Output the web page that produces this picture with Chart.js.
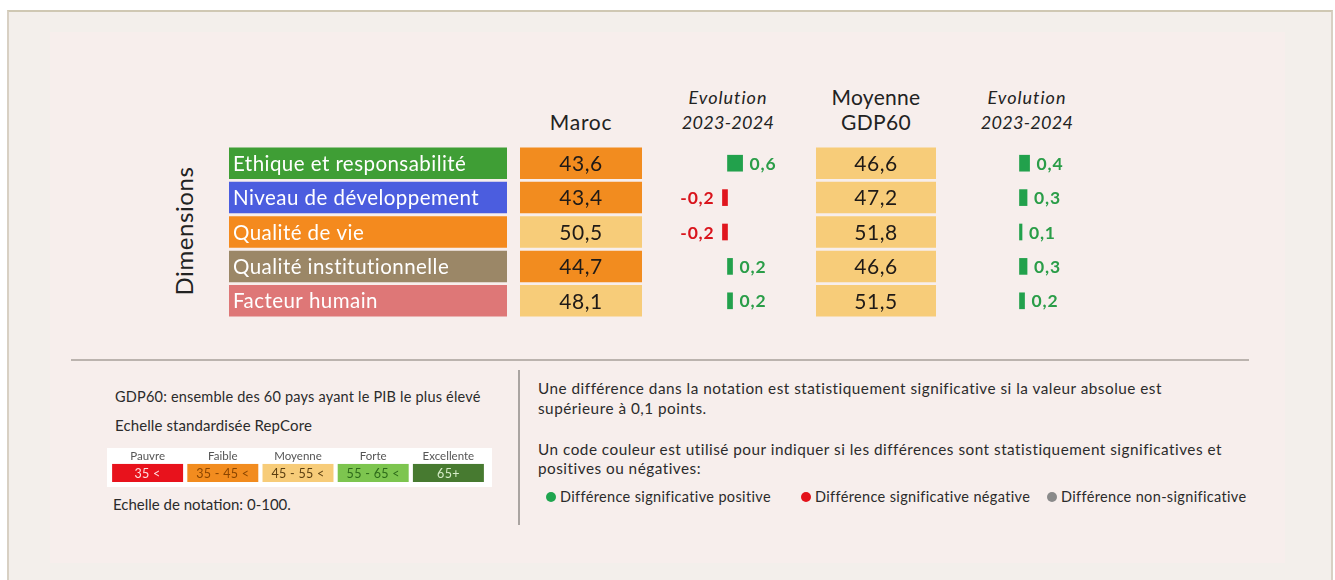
<!DOCTYPE html>
<html>
<head>
<meta charset="utf-8">
<script src="https://cdn.jsdelivr.net/npm/chart.js@4.4.1/dist/chart.umd.min.js"></script>
<style>
  body { margin: 0; width: 1335px; height: 580px; background: #fff; font-family: Lato, "Noto Sans", sans-serif; overflow: hidden; position: relative; }
  .frame { position: absolute; left: 7px; top: 10px; width: 1322px; height: 572px; background: #f3efeb; border-top: 2px solid #cfc8b3; border-left: 2px solid #d8d0c3; border-right: 2px solid #d8d0c3; }
  .panel { position: absolute; left: 50px; top: 32px; width: 1235px; height: 531px; background: #f7eeec; }
  .t { position: absolute; white-space: nowrap; line-height: 1.2; color: #222; }
  canvas { position: absolute; }
  .hline { position: absolute; left: 71px; top: 359px; width: 1178px; height: 2px; background: #bbb3ae; }
  .vline { position: absolute; left: 518px; top: 370px; width: 2px; height: 155px; background: #aaa4a1; }
  .dot { position: absolute; width: 10px; height: 10px; border-radius: 50%; }
</style>
</head>
<body>
<div class="frame"></div>
<div class="panel"></div>
<div class="hline"></div>
<div class="vline"></div>

<canvas id="labelChart" width="278" height="172" style="left:229px;top:146px"></canvas>
<canvas id="marocChart" width="122" height="172" style="left:520px;top:146px"></canvas>
<canvas id="marocEvoChart" width="151" height="172" style="left:652px;top:146px"></canvas>
<canvas id="gdpChart" width="120" height="172" style="left:816px;top:146px"></canvas>
<canvas id="gdpEvoChart" width="151" height="172" style="left:944px;top:146px"></canvas>
<canvas id="bandChart" width="385" height="39" style="left:107px;top:448px;background:#fff"></canvas>

<div id="texts"></div>

<script>
// Data
const dimensions = ["Ethique et responsabilité", "Niveau de développement", "Qualité de vie", "Qualité institutionnelle", "Facteur humain"]
const marocScores = [43.6, 43.4, 50.5, 44.7, 48.1]
const marocEvolution = [0.6, -0.2, -0.2, 0.2, 0.2]
const gdpScores = [46.6, 47.2, 51.8, 46.6, 51.5]
const gdpEvolution = [0.4, 0.3, 0.1, 0.3, 0.2]
const bandNames = ["Pauvre", "Faible", "Moyenne", "Forte", "Excellente"]
const bandRanges = ["35 <", "35 - 45 <", "45 - 55 <", "55 - 65 <", "65+"]
const bandLimits = [35, 45, 55, 65]
const ratingRange = [0, 100]

// Styles
const dimensionColors = ["#3f9e35", "#4b5ddf", "#f48a1e", "#9b8767", "#de7777"]
const bandColors = ["#e8121c", "#f28c1f", "#f7cc79", "#7dc54f", "#477a30"]
const bandTextColors = ["#ffe0e0", "#8a4500", "#5a3e10", "#2d6a1a", "#d6ecc8"]
const positiveColor = "#22a14c"
const negativeColor = "#e0161e"

Chart.defaults.font.family = "Lato"
Chart.defaults.animation = false

const fmt = (v) => v.toFixed(1).replace(".", ",")
const bandIndex = (v) => {
  let i = 0
  while (i < bandLimits.length && v >= bandLimits[i]) i++
  return i
}

// text inside / beside bars
const barText = {
  id: "barText",
  afterDatasetsDraw(chart, args, opts) {
    const { ctx } = chart
    const meta = chart.getDatasetMeta(0)
    const horizontal = chart.options.indexAxis === "y"
    ctx.save()
    ctx.font = opts.font
    ctx.letterSpacing = (opts.spacing || 0) + "px"
    ctx.textBaseline = "middle"
    meta.data.forEach((bar, i) => {
      const value = chart.data.datasets[0].raw[i]
      const text = opts.texts[i]
      ctx.fillStyle = typeof opts.color === "function" ? opts.color(value, i) : opts.color
      let x = bar.x
      let y = bar.y
      if (!horizontal) {
        ctx.textAlign = "center"
        y = (bar.y + bar.base) / 2
      } else if (opts.mode === "left") {
        ctx.textAlign = "left"
        x = Math.min(bar.x, bar.base) + 4
      } else if (opts.mode === "center") {
        ctx.textAlign = "center"
        x = (bar.x + bar.base) / 2
      } else if (value >= 0) {
        ctx.textAlign = "left"
        x = bar.x + 7
      } else {
        ctx.textAlign = "right"
        x = bar.x - 8
      }
      ctx.fillText(text, x, y + (opts.dy || 0))
    })
    ctx.restore()
  },
}

function cellChart(id, values, colors, textOpts) {
  return new Chart(document.getElementById(id), {
    type: "bar",
    data: {
      labels: dimensions,
      datasets: [
        {
          data: values.map(() => ratingRange),
          raw: values,
          backgroundColor: colors,
          borderWidth: 0,
          borderSkipped: false,
          categoryPercentage: 1,
          barPercentage: 0.915,
        },
      ],
    },
    options: {
      indexAxis: "y",
      responsive: false,
      layout: { padding: 0 },
      plugins: { legend: { display: false }, tooltip: { enabled: false }, barText: textOpts },
      scales: {
        x: { display: false, min: ratingRange[0], max: ratingRange[1] },
        y: { display: false },
      },
    },
    plugins: [barText],
  })
}

function evoChart(id, values) {
  return new Chart(document.getElementById(id), {
    type: "bar",
    data: {
      labels: dimensions,
      datasets: [
        {
          data: values,
          raw: values,
          backgroundColor: values.map((v) => (v >= 0 ? positiveColor : negativeColor)),
          borderWidth: 0,
          borderSkipped: false,
          barThickness: 16,
        },
      ],
    },
    options: {
      indexAxis: "y",
      responsive: false,
      layout: { padding: 0 },
      plugins: {
        legend: { display: false },
        tooltip: { enabled: false },
        barText: {
          mode: "outside",
          texts: values.map(fmt),
          font: "bold 17.5px Lato",
          spacing: 0.8,
          color: (v) => (v >= 0 ? "#2a9d48" : "#d9141c"),
          dy: 1,
        },
      },
      scales: {
        x: { display: false, min: -3, max: 3 },
        y: { display: false },
      },
    },
    plugins: [barText],
  })
}

cellChart("labelChart", dimensions.map((d, i) => i), dimensionColors, {
  mode: "left",
  texts: dimensions,
  font: "20.5px Lato",
  spacing: 0.45,
  color: "#ffffff",
  dy: 1,
})
cellChart("marocChart", marocScores, marocScores.map((v) => bandColors[bandIndex(v)]), {
  mode: "center",
  texts: marocScores.map(fmt),
  font: "21px Lato",
  spacing: 0.6,
  color: "#1f1a17",
  dy: 1,
})
evoChart("marocEvoChart", marocEvolution)
cellChart("gdpChart", gdpScores, gdpScores.map((v) => bandColors[bandIndex(v)]), {
  mode: "center",
  texts: gdpScores.map(fmt),
  font: "21px Lato",
  spacing: 0.6,
  color: "#1f1a17",
  dy: 1,
})
evoChart("gdpEvoChart", gdpEvolution)

// rating scale legend
new Chart(document.getElementById("bandChart"), {
  type: "bar",
  data: {
    labels: bandNames,
    datasets: [
      {
        data: bandNames.map(() => ratingRange),
        raw: bandNames.map((n, i) => i),
        backgroundColor: bandColors,
        borderWidth: 0,
        borderSkipped: false,
        categoryPercentage: 1,
        barPercentage: 0.944,
      },
    ],
  },
  options: {
    responsive: false,
    layout: { padding: { left: 3, right: 6, top: 0, bottom: 5 } },
    plugins: {
      legend: { display: false },
      tooltip: { enabled: false },
      barText: {
        texts: bandRanges,
        font: "12.5px Lato",
        spacing: 0.3,
        color: (v, i) => bandTextColors[i],
        dy: 1,
      },
    },
    scales: {
      x: {
        position: "top",
        grid: { display: false, drawTicks: false },
        border: { display: false },
        ticks: { color: "#555", font: { size: 11.5 }, padding: 1 },
      },
      y: { display: false, min: ratingRange[0], max: ratingRange[1] },
    },
  },
  plugins: [barText],
})

// HTML text
const texts = document.getElementById("texts")
function addText(str, x, baseline, size, opts = {}) {
  const el = document.createElement("div")
  el.className = "t"
  el.textContent = str
  el.style.fontSize = size + "px"
  el.style.top = baseline - 0.987 * size + "px"
  if (opts.spacing) el.style.letterSpacing = opts.spacing + "px"
  if (opts.italic) el.style.fontStyle = "italic"
  if (opts.color) el.style.color = opts.color
  if (opts.align === "center") {
    el.style.left = x - 200 + "px"
    el.style.width = "400px"
    el.style.textAlign = "center"
  } else {
    el.style.left = x + "px"
  }
  texts.appendChild(el)
  return el
}

addText("Maroc", 581, 130, 21, { align: "center", spacing: 0.7 })
addText("Evolution", 728, 105, 18, { align: "center", italic: true, spacing: 1 })
addText("2023-2024", 728, 130, 18, { align: "center", italic: true, spacing: 0.3 })
addText("Moyenne", 876, 104.5, 21, { align: "center", spacing: 0.3 })
addText("GDP60", 876, 130, 21, { align: "center", spacing: 0.3 })
addText("Evolution", 1027, 105, 18, { align: "center", italic: true, spacing: 1 })
addText("2023-2024", 1027, 130, 18, { align: "center", italic: true, spacing: 0.3 })

const dim = document.createElement("div")
dim.className = "t"
dim.textContent = "Dimensions"
dim.style.fontSize = "24px"
dim.style.letterSpacing = "0.6px"
dim.style.left = "184px"
dim.style.top = "231px"
dim.style.transform = "translate(-50%, -50%) rotate(-90deg)"
texts.appendChild(dim)

const note = "#2b2b2b"
addText("GDP60: ensemble des 60 pays ayant le PIB le plus élevé", 115, 402, 14.5, { color: note, spacing: 0.2 })
addText("Echelle standardisée RepCore", 115, 431, 15, { color: note, spacing: 0.1 })
addText("Echelle de notation: 0-100.", 113, 510, 15, { color: note })

addText("Une différence dans la notation est statistiquement significative si la valeur absolue est", 538, 394, 15.3, { color: note, spacing: 0.5 })
addText("supérieure à 0,1 points.", 538, 414, 15.3, { color: note, spacing: 0.5 })
addText("Un code couleur est utilisé pour indiquer si les différences sont statistiquement significatives et", 538, 455, 15.3, { color: note, spacing: 0.5 })
addText("positives ou négatives:", 538, 474, 15.3, { color: note, spacing: 0.5 })

const legendItems = [
  { label: "Différence significative positive", color: "#1fa54f", x: 546 },
  { label: "Différence significative négative", color: "#e3121a", x: 801 },
  { label: "Différence non-significative", color: "#8a8a8a", x: 1047 },
]
legendItems.forEach((item) => {
  const d = document.createElement("div")
  d.className = "dot"
  d.style.left = item.x + "px"
  d.style.top = "492px"
  d.style.background = item.color
  texts.appendChild(d)
  addText(item.label, item.x + 14, 502, 14.5, { color: note, spacing: 0.35 })
})
</script>
</body>
</html>
